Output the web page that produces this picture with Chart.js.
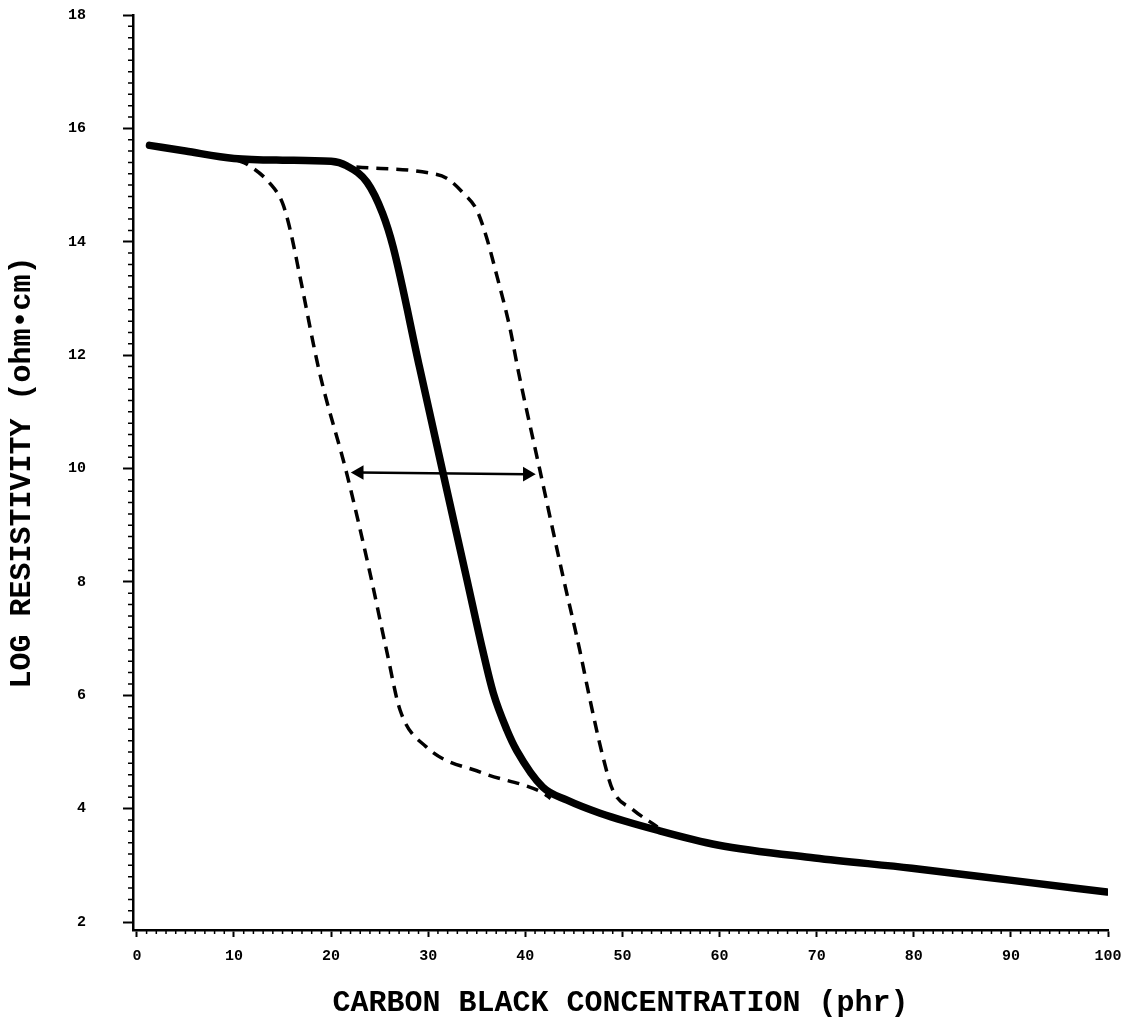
<!DOCTYPE html>
<html lang="en">
<head>
  <meta charset="UTF-8">
  <title>Log resistivity vs carbon black concentration</title>
  <script src="https://cdn.jsdelivr.net/npm/chart.js"></script>
  <style>
    body { margin: 0; background: #fff; }
    canvas { display: block; }
  </style>
</head>
<body>
  <canvas id="chart" width="1121" height="1028"></canvas>

  <script>
    // main (solid) curve
    const solidX = [1.3, 5, 10, 15, 20, 21.6, 23.7, 25.3, 26.4, 29.1, 31.5, 34.0, 35.6, 36.7, 38.1, 39.1, 41.8, 44.3, 47.7, 53.6, 59.8, 69.8, 79.8, 89.9, 99.9];
    const solidY = [15.70, 15.60, 15.47, 15.44, 15.42, 15.34, 15.05, 14.50, 13.90, 11.79, 9.94, 8.03, 6.80, 6.04, 5.39, 5.03, 4.38, 4.15, 3.92, 3.62, 3.36, 3.13, 2.95, 2.74, 2.53];

    // left dashed curve
    const lowerX = [10.3, 11.3, 13.7, 15.0, 15.8, 16.8, 18.8, 21.6, 24.0, 25.7, 27.1, 29.8, 35.6, 41.8, 42.6];
    const lowerY = [15.44, 15.37, 15.03, 14.68, 14.20, 13.38, 11.70, 9.92, 8.16, 6.80, 5.74, 5.09, 4.63, 4.28, 4.18];

    // right dashed curve
    const upperX = [22.6, 30.2, 31.9, 33.6, 35.0, 36.0, 37.1, 38.4, 39.3, 41.5, 43.9, 45.6, 46.6, 48.0, 49.0, 51.1, 53.6];
    const upperY = [15.32, 15.21, 15.12, 14.86, 14.56, 14.08, 13.38, 12.49, 11.70, 9.97, 8.08, 6.80, 5.97, 4.91, 4.33, 3.98, 3.68];

    // double arrow at log = 10 (arrowhead centres)
    const arrowX = [22.9, 40.2];
    const arrowY = [9.93, 9.90];

    const xTicks = [0, 10, 20, 30, 40, 50, 60, 70, 80, 90, 100];
    const yTicks = [2, 4, 6, 8, 10, 12, 14, 16, 18];

    const pts = (xs, ys) => xs.map((x, i) => ({x: x, y: ys[i]}));

    const monoFont = "'Liberation Mono', 'DejaVu Sans Mono', monospace";

    // small minor ticks along both axes
    const minorTicks = {
      id: 'minorTicks',
      afterDraw(chart) {
        const {ctx, chartArea, scales} = chart;
        ctx.save();
        ctx.strokeStyle = '#000';
        ctx.lineWidth = 1.5;
        ctx.beginPath();
        for (let v = 1; v < 100; v++) {
          if (v % 10 === 0) continue;
          const px = scales.x.getPixelForValue(v);
          ctx.moveTo(px, chartArea.bottom);
          ctx.lineTo(px, chartArea.bottom + 4);
        }
        for (let i = 1; i < 80; i++) {
          if (i % 10 === 0) continue;
          const py = scales.y.getPixelForValue(2 + i * 0.2);
          ctx.moveTo(chartArea.left, py);
          ctx.lineTo(chartArea.left - 5, py);
        }
        ctx.stroke();
        ctx.restore();
      }
    };

    new Chart(document.getElementById('chart'), {
      type: 'line',
      data: {
        datasets: [
          {
            data: pts(solidX, solidY),
            borderColor: '#000',
            borderWidth: 7.5,
            pointRadius: 0,
            cubicInterpolationMode: 'monotone',
            borderCapStyle: 'round'
          },
          {
            data: pts(lowerX, lowerY),
            borderColor: '#000',
            borderWidth: 3.5,
            borderDash: [12, 8],
            pointRadius: 0,
            cubicInterpolationMode: 'monotone'
          },
          {
            data: pts(upperX, upperY),
            borderColor: '#000',
            borderWidth: 3.5,
            borderDash: [12, 8],
            pointRadius: 0,
            cubicInterpolationMode: 'monotone'
          },
          {
            data: pts(arrowX, arrowY),
            borderColor: '#000',
            backgroundColor: '#000',
            borderWidth: 2.5,
            pointStyle: 'triangle',
            pointRadius: 6,
            pointRotation: [-90, 90],
            tension: 0
          }
        ]
      },
      options: {
        responsive: false,
        animation: false,
        layout: { padding: { top: 15, right: 13, left: 0, bottom: 0 } },
        plugins: {
          legend: { display: false },
          tooltip: { enabled: false }
        },
        scales: {
          x: {
            type: 'linear',
            min: -0.4,
            max: 100,
            afterBuildTicks: (axis) => { axis.ticks = xTicks.map(v => ({value: v})); },
            afterFit: (axis) => {
              axis.height = 98;
              axis.paddingLeft = 0;
              axis.paddingRight = 13;
            },
            border: { color: '#000', width: 2.5 },
            grid: { drawOnChartArea: false, color: '#000', tickLength: 7, tickWidth: 2 },
            ticks: {
              color: '#000',
              padding: 10,
              maxRotation: 0,
              font: { family: monoFont, size: 15, weight: 'bold' }
            },
            title: {
              display: true,
              text: 'CARBON BLACK CONCENTRATION (phr)',
              color: '#000',
              padding: { top: 0, bottom: 7 },
              font: { family: monoFont, size: 30, weight: 'bold' }
            }
          },
          y: {
            type: 'linear',
            min: 1.86,
            max: 18,
            afterBuildTicks: (axis) => { axis.ticks = yTicks.map(v => ({value: v})); },
            afterFit: (axis) => {
              axis.width = 133;
              axis.paddingTop = 10;
              axis.paddingBottom = 10;
            },
            border: { color: '#000', width: 2.5 },
            grid: { drawOnChartArea: false, color: '#000', tickLength: 10, tickWidth: 2 },
            ticks: {
              color: '#000',
              padding: 37,
              font: { family: monoFont, size: 15, weight: 'bold' }
            },
            title: {
              display: true,
              text: 'LOG RESISTIVITY (ohm•cm)',
              color: '#000',
              padding: { top: 4, bottom: 0 },
              font: { family: monoFont, size: 30, weight: 'bold' }
            }
          }
        }
      },
      plugins: [minorTicks]
    });
  </script>
</body>
</html>
